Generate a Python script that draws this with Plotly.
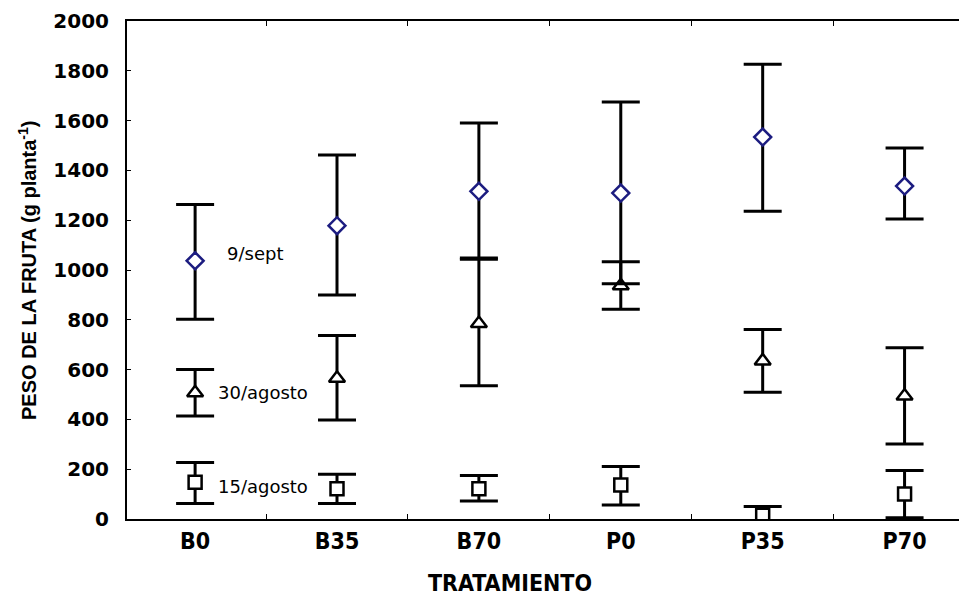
import plotly.graph_objects as go

# ---- data -------------------------------------------------------------
tratamientos = ["B0", "B35", "B70", "P0", "P35", "P70"]

# 9/sept
sept_mean = [1037, 1178, 1316, 1309, 1534, 1337]
sept_upper = [1263, 1462, 1590, 1675, 1826, 1490]
sept_lower = [802, 900, 1043, 945, 1236, 1205]

# 30/agosto
ago30_mean = [507, 565, 785, 937, 635, 494]
ago30_upper = [600, 737, 1048, 1033, 761, 688]
ago30_lower = [414, 398, 535, 842, 509, 301]

# 15/agosto
ago15_mean = [148, 121, 121, 137, 15, 100]
ago15_upper = [227, 180, 175, 211, 50, 195]
ago15_lower = [62, 62, 72, 56, -30, 5]

y_ticks = [0, 200, 400, 600, 800, 1000, 1200, 1400, 1600, 1800, 2000]

series_labels = ["9/sept", "30/agosto", "15/agosto"]

# ---- figure -----------------------------------------------------------
fig = go.Figure()


def add_series(mean, upper, lower, symbol, size, line_color, name):
    plus = [u - m for u, m in zip(upper, mean)]
    minus = [m - l for m, l in zip(mean, lower)]
    fig.add_trace(go.Scatter(
        x=tratamientos, y=mean, mode="markers", name=name,
        marker=dict(symbol=symbol, size=size, color="white",
                    line=dict(color=line_color, width=2.5)),
        error_y=dict(type="data", array=plus, arrayminus=minus,
                     symmetric=False, color="black", thickness=3, width=19),
        showlegend=False,
    ))


add_series(ago15_mean, ago15_upper, ago15_lower, "square", 13, "black", series_labels[2])
add_series(ago30_mean, ago30_upper, ago30_lower, "triangle-up", 14, "black", series_labels[1])
add_series(sept_mean, sept_upper, sept_lower, "diamond", 13, "#1c1c80", series_labels[0])

label_font = dict(family="DejaVu Sans, Arial, sans-serif", size=18, color="black")
fig.add_annotation(x=0.21, y=1065, xref="x", yref="y", text=series_labels[0],
                   showarrow=False, xanchor="left", yanchor="middle", font=label_font)
fig.add_annotation(x=0.15, y=510, xref="x", yref="y", text=series_labels[1],
                   showarrow=False, xanchor="left", yanchor="middle", font=label_font)
fig.add_annotation(x=0.15, y=130, xref="x", yref="y", text=series_labels[2],
                   showarrow=False, xanchor="left", yanchor="middle", font=label_font)

narrow = "Liberation Sans Narrow, DejaVu Sans Condensed, Arial Narrow, sans-serif"

# plot area in the page: x 127..967, y 21..519 (page has an 8px body margin)
fig.add_annotation(x=(27 - 127) / 840, y=(519 - 270) / 498, xref="paper", yref="paper",
                   text="PESO DE LA FRUTA (g planta<sup>-1</sup>)", textangle=-90,
                   showarrow=False, xanchor="center", yanchor="middle",
                   font=dict(family="Liberation Sans, Arial, sans-serif", size=20,
                             color="black", weight="bold"))
fig.add_annotation(x=(510 - 127) / 840, y=(519 - 583) / 498, xref="paper", yref="paper",
                   text="TRATAMIENTO", showarrow=False,
                   xanchor="center", yanchor="middle",
                   font=dict(family=narrow, size=23, color="black", weight="bold"))

fig.update_layout(
    width=959, height=588, autosize=False,
    margin=dict(l=119, r=0, t=13, b=77, pad=0),
    paper_bgcolor="white", plot_bgcolor="white",
    xaxis=dict(
        type="category", categoryorder="array", categoryarray=tratamientos,
        range=[-0.48, 5.44], showgrid=False, zeroline=False,
        showline=True, linecolor="black", linewidth=2, mirror="ticks",
        ticks="inside", tickson="boundaries", ticklen=5, tickwidth=1, tickcolor="black",
        tickfont=dict(family=narrow, size=23, color="black", weight="bold"),
    ),
    yaxis=dict(
        range=[0, 2000], tickvals=y_ticks, showgrid=False, zeroline=False,
        showline=True, linecolor="black", linewidth=2,
        ticks="inside", ticklen=4, tickwidth=1, tickcolor="black",
        ticklabelstandoff=12,
        tickfont=dict(family="DejaVu Sans, Arial, sans-serif", size=20,
                      color="black", weight="bold"),
    ),
)

fig.write_html("out.html")
